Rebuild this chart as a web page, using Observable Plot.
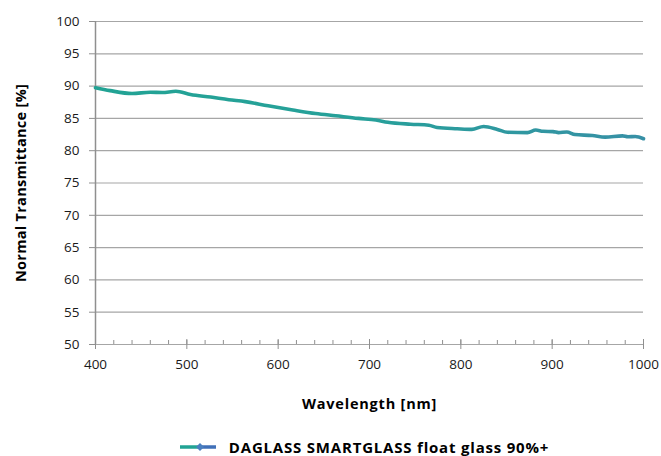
<!DOCTYPE html>
<html><head><meta charset="utf-8">
<script src="https://cdn.jsdelivr.net/npm/d3@7"></script>
<script src="https://cdn.jsdelivr.net/npm/@observablehq/plot@0.6"></script>
<style>
html,body{margin:0;padding:0;background:#fff;}
#chart svg{display:block;}
g[aria-label="y-axis label"] text, g[aria-label="x-axis label"] text{font-weight:700;font-size:14.5px;letter-spacing:0.8px;font-family:"Open Sans",sans-serif;fill:#000;}
g[aria-label="y-axis label"] text{letter-spacing:0.3px;}
.legend{height:30px;display:flex;align-items:center;justify-content:center;font-family:"Open Sans",sans-serif;font-weight:700;font-size:15px;letter-spacing:0.8px;color:#000;padding-left:67px;}
.legend svg{margin-right:12px;}
</style></head><body>
<div id="chart"></div>
<div class="legend" id="legend"></div>
<script>
const wavelength = [400,416,440,460,473,488,504,526,546,564,589,616,641,663,688,707,720,745,765,774,796,812,825,840,851,873,882,890,901,907,916,925,944,958,977,983,991,1000];
const transmittance = [89.75,89.3,88.85,89.05,89.0,89.2,88.7,88.3,87.9,87.6,86.95,86.3,85.75,85.4,85.0,84.75,84.4,84.1,83.95,83.6,83.4,83.3,83.75,83.3,82.85,82.8,83.2,83.0,82.95,82.8,82.9,82.5,82.35,82.1,82.3,82.15,82.2,81.85];
const xTicks = [400,500,600,700,800,900,1000];
const xMinorTicks = [400,420,440,460,480,500,520,540,560,580,600,620,640,660,680,700,720,740,760,780,800,820,840,860,880,900,920,940,960,980,1000];
const yTicks = [50,55,60,65,70,75,80,85,90,95,100];
const seriesName = "DAGLASS SMARTGLASS float glass 90%+";
const xLabel = "Wavelength [nm]";
const yLabel = "Normal Transmittance [%]";

const data = wavelength.map((w,i)=>({w, t: transmittance[i]}));
const grid = "#a6a6a6";
const axisColor = "#8f8f8f";

const chart = Plot.plot({
  width: 661, height: 432,
  marginLeft: 95, marginRight: 18, marginTop: 21, marginBottom: 88,
  style: {fontFamily: "'Open Sans', sans-serif", fontSize: "13.5px", color: "#1a1a1a", background: "#fff"},
  x: {domain: [400, 1000]},
  y: {domain: [50, 100]},
  marks: [
    Plot.ruleY(yTicks, {stroke: grid, strokeWidth: 1.2}),
    Plot.ruleX([400], {stroke: axisColor, strokeWidth: 1.5}),
    Plot.axisY({ticks: yTicks, tickSize: 6, tickPadding: 10, stroke: axisColor, label: yLabel, labelAnchor: "center", labelArrow: "none", labelOffset: 80}),
    Plot.axisX({ticks: xTicks, tickSize: 5, tickPadding: 10, tickFormat: d3.format("d"), stroke: axisColor, label: xLabel, labelAnchor: "center", labelArrow: "none", labelOffset: 64}),
    Plot.axisX({ticks: xMinorTicks, tickSize: -4, text: null, label: null, stroke: axisColor}),
    Plot.axisX({ticks: xTicks, tickSize: -5, text: null, label: null, stroke: axisColor}),
    Plot.line(data, {x: "w", y: "t", stroke: "url(#lineGrad)", strokeWidth: 3.6, curve: "monotone-x"})
  ]
});

const ns = "http://www.w3.org/2000/svg";
const defs = document.createElementNS(ns, "defs");
defs.innerHTML = '<linearGradient id="lineGrad" x1="0" x2="1" y1="0" y2="0"><stop offset="0" stop-color="#22a394"/><stop offset="0.5" stop-color="#27a09a"/><stop offset="1" stop-color="#3790a6"/></linearGradient>';
chart.insertBefore(defs, chart.firstChild);
document.getElementById("chart").appendChild(chart);

const leg = document.getElementById("legend");
leg.innerHTML = '<svg width="38" height="12"><line x1="1" x2="20" y1="6" y2="6" stroke="#22a394" stroke-width="3.5"/><line x1="20" x2="37" y1="6" y2="6" stroke="#4070b8" stroke-width="3.5"/><path d="M17,6 L21,2 L25,6 L21,10 Z" fill="#4a7fc0"/></svg><span></span>';
leg.querySelector("span").textContent = seriesName;
</script>
</body></html>
